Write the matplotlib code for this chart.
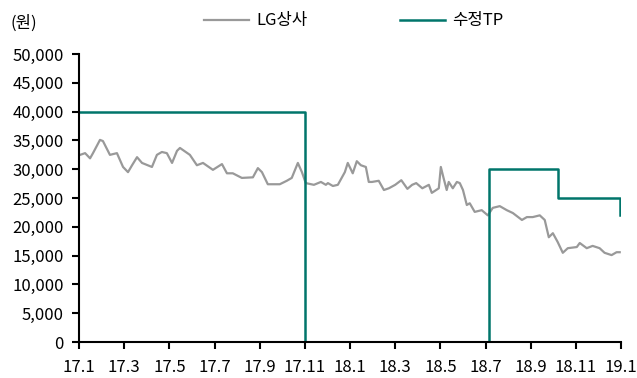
#-*- coding: utf-8 -*-
import numpy as np
from matplotlib import pyplot as plt

plt.rcParams['font.family'] = ['Noto Sans CJK KR', 'DejaVu Sans']
plt.rcParams['font.weight'] = 'light'

# month offsets from 17.1 and prices (won)
price_month = [0.05, 0.27, 0.49, 0.62, 0.93, 1.06, 1.37, 1.68, 1.95, 2.17, 2.35, 2.57, 2.79,
               3.23, 3.45, 3.67, 3.89, 4.12, 4.34, 4.47, 4.91, 5.22, 5.49, 5.93, 6.33, 6.55,
               6.81, 7.21, 7.70, 7.92, 8.10, 8.36, 8.89, 9.20, 9.42, 9.69, 9.87, 10.04, 10.40,
               10.71, 10.93, 11.02, 11.24, 11.46, 11.77, 11.90, 12.12, 12.30, 12.48, 12.70,
               12.83, 12.97, 13.27, 13.50, 13.72, 14.00, 14.27, 14.54, 14.75, 14.93, 15.20,
               15.49, 15.62, 15.93, 16.02, 16.14, 16.28, 16.37, 16.55, 16.73, 16.86, 17.00,
               17.17, 17.30, 17.52, 17.83, 18.10, 18.32, 18.63, 18.94, 19.21, 19.61, 19.83,
               20.09, 20.40, 20.62, 20.80, 20.98, 21.19, 21.42, 21.64, 22.04, 22.17, 22.48,
               22.74, 23.05, 23.27, 23.58, 23.80, 23.94]
price = [32500, 32800, 31900, 32800, 35100, 34900, 32500, 32800, 30400, 29500, 30700, 32100,
         31100, 30400, 32500, 33000, 32800, 31100, 33200, 33700, 32500, 30700, 31100, 29900,
         30900, 29300, 29300, 28500, 28600, 30200, 29500, 27400, 27400, 28000, 28500, 31100,
         29500, 27600, 27300, 27800, 27300, 27600, 27100, 27300, 29500, 31100, 29300, 31400,
         30700, 30400, 27800, 27800, 28000, 26400, 26700, 27300, 28100, 26600, 27300, 27600,
         26700, 27300, 25900, 26700, 30400, 28500, 26400, 27800, 26700, 27800, 27600, 26400,
         23800, 24100, 22600, 22900, 22000, 23300, 23600, 22900, 22400, 21200, 21700, 21700,
         22000, 21200, 18200, 18900, 17400, 15500, 16300, 16500, 17200, 16300, 16700, 16300,
         15500, 15100, 15600, 15600]

# target price steps
tp_month = [0, 10.0, 10.0, 18.15, 18.15, 21.2, 21.2, 23.97, 23.97]
tp = [40000, 40000, 0, 0, 30000, 30000, 25000, 25000, 22000]

tick_labels = ['17.1', '17.3', '17.5', '17.7', '17.9', '17.11', '18.1',
               '18.3', '18.5', '18.7', '18.9', '18.11', '19.1']

fig = plt.figure(figsize=(6.37, 3.78), dpi=100)
ax = fig.add_axes([0.124, 0.095, 0.851, 0.762])

ax.plot(price_month, price, color='#999999', lw=1.6, label='LG상사')
ax.plot(tp_month, tp, color='#00756b', lw=1.8, label='수정TP')

ax.set_xlim(0, 24)
ax.set_ylim(0, 50000)
ax.set_xticks(np.arange(0, 25, 2))
ax.set_xticklabels(tick_labels)
ax.set_yticks(np.arange(0, 50001, 5000))
ax.set_yticklabels(['{:,}'.format(v) for v in range(0, 50001, 5000)])

for s in ['top', 'right']:
    ax.spines[s].set_visible(False)
for s in ['left', 'bottom']:
    ax.spines[s].set_linewidth(1.5)
ax.tick_params(direction='out', length=5, width=1.5, labelsize=12, colors='black')
ax.tick_params(axis='y', pad=6)
ax.tick_params(axis='x', pad=7)

ax.text(-0.127, 1.09, '(원)', transform=ax.transAxes, fontsize=12)

ax.legend(loc='center', bbox_to_anchor=(0.507, 1.115), ncol=2, frameon=False,
          fontsize=12, handlelength=2.7, columnspacing=5.6, handletextpad=0.4)

plt.savefig('out.png', dpi=100)
